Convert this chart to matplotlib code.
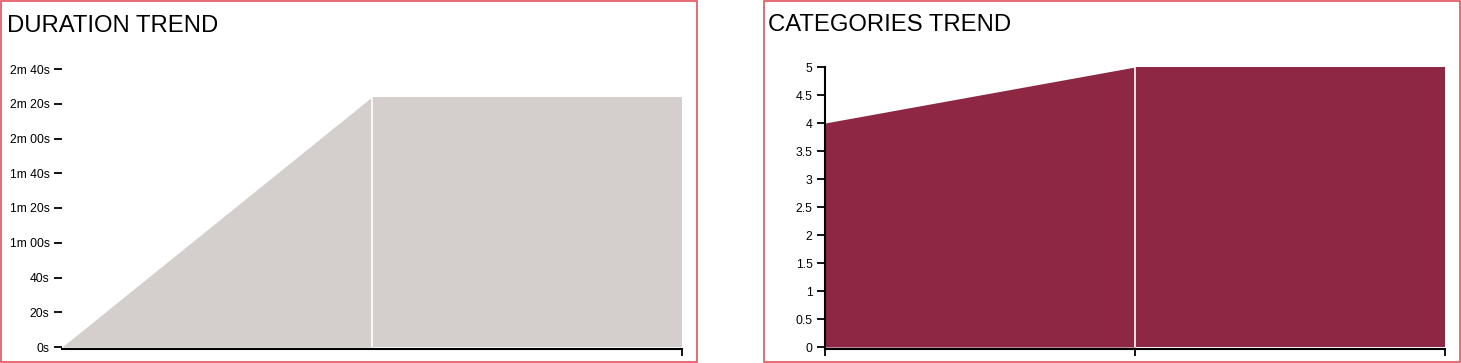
import matplotlib
matplotlib.use("Agg")
import matplotlib.pyplot as plt
from matplotlib.patches import Rectangle

plt.rcParams['font.family'] = ['Liberation Sans', 'DejaVu Sans']

# ---- data ----
points = [0, 1, 2]
duration_seconds = [0, 144, 144]
duration_ticks = [0, 20, 40, 60, 80, 100, 120, 140, 160]
duration_labels = ['0s', '20s', '40s', '1m 00s', '1m 20s', '1m 40s', '2m 00s', '2m 20s', '2m 40s']
categories_values = [4, 5, 5]
categories_ticks = [0, 0.5, 1, 1.5, 2, 2.5, 3, 3.5, 4, 4.5, 5]
categories_labels = ['0', '0.5', '1', '1.5', '2', '2.5', '3', '3.5', '4', '4.5', '5']

W, H = 1461, 363
fig = plt.figure(figsize=(W / 100, H / 100), dpi=100)

def fx(px):
    return px / W

def fy(py):
    return 1 - py / H

# panel borders
border_color = '#e2535c'
for (x0, x1) in [(0.5, 697), (764, 1460)]:
    fig.add_artist(Rectangle((fx(x0), fy(362)), fx(x1 - x0), (362 - 0.5) / H,
                             transform=fig.transFigure, fill=False,
                             edgecolor=border_color, lw=1.2))

# titles
fig.text(fx(7), fy(26), 'DURATION TREND', fontsize=17.2, va='center', ha='left')
fig.text(fx(768), fy(25), 'CATEGORIES TREND', fontsize=17.2, va='center', ha='left')

def draw_area(ax, xs, ys, color):
    for i in range(len(xs) - 1):
        ax.fill_between(xs[i:i + 2], 0, ys[i:i + 2], color=color, lw=0)
    for x in xs[1:-1]:
        ax.axvline(x, color='white', lw=1.2)

# left chart
ax1 = fig.add_axes([fx(62), fy(347), fx(682 - 62), (347 - 69) / H])
draw_area(ax1, points, duration_seconds, '#d4cfcd')
ax1.set_xlim(points[0], points[-1])
ax1.set_ylim(0, 160)
ax1.set_yticks(duration_ticks)
ax1.set_yticklabels(duration_labels, fontsize=8.7)
ax1.set_xticks([points[-1]])
ax1.set_xticklabels([''])
for s in ['top', 'right', 'left']:
    ax1.spines[s].set_visible(False)
ax1.spines['bottom'].set_position(('outward', 1.5))
ax1.spines['bottom'].set_linewidth(1.5)
ax1.tick_params(axis='y', length=6, width=1.3, pad=3)
ax1.tick_params(axis='x', length=5, width=1.3)
ax1.patch.set_alpha(0)

# right chart
ax2 = fig.add_axes([fx(825), fy(347), fx(1445 - 825), (347 - 67) / H])
draw_area(ax2, points, categories_values, '#8e2744')
ax2.set_xlim(points[0], points[-1])
ax2.set_ylim(0, 5)
ax2.set_yticks(categories_ticks)
ax2.set_yticklabels(categories_labels, fontsize=8.7)
ax2.set_xticks(points)
ax2.set_xticklabels(['', '', ''])
for s in ['top', 'right']:
    ax2.spines[s].set_visible(False)
ax2.spines['bottom'].set_position(('outward', 1.5))
ax2.spines['bottom'].set_linewidth(1.5)
ax2.spines['left'].set_linewidth(1.5)
ax2.tick_params(axis='y', length=6, width=1.3, pad=3)
ax2.tick_params(axis='x', length=5, width=1.3)
ax2.patch.set_alpha(0)

fig.savefig('out.png', dpi=100)
